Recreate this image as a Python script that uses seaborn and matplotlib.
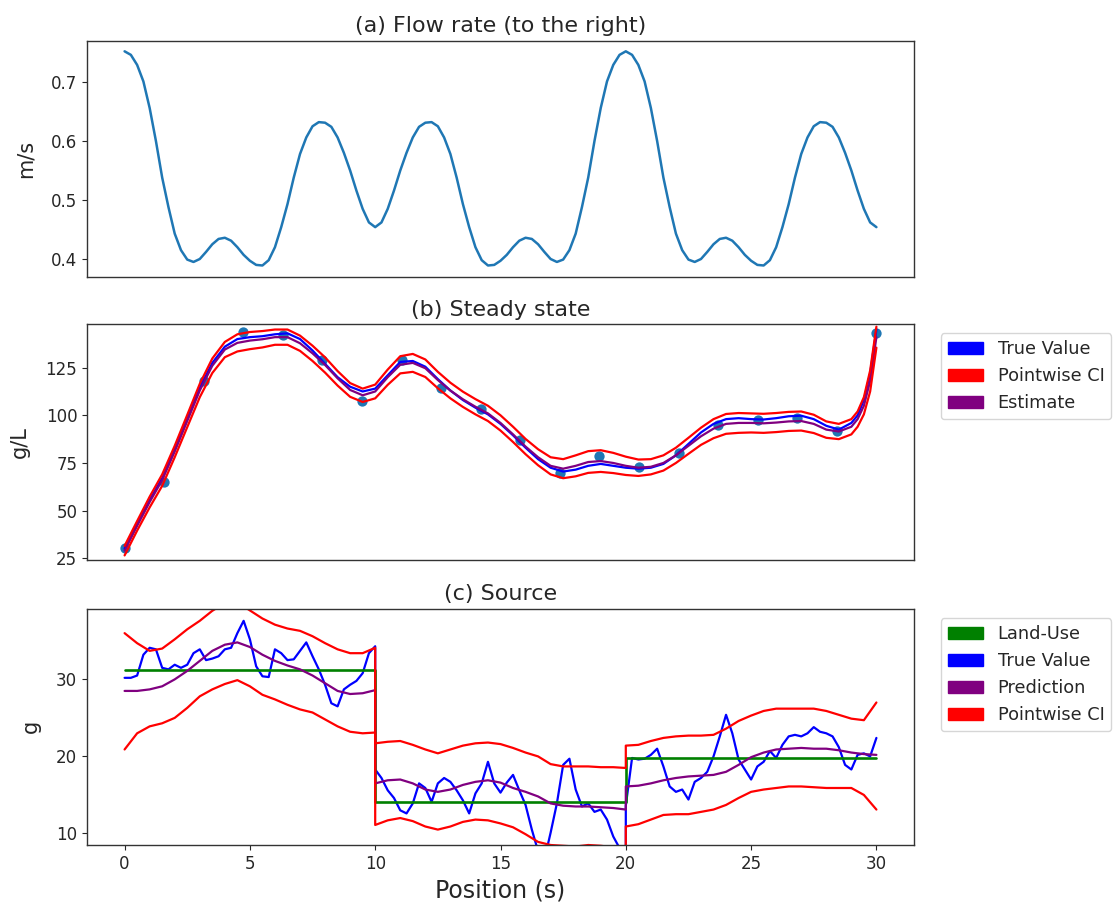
import numpy as np
import matplotlib
matplotlib.use("Agg")
import matplotlib.pyplot as plt
import matplotlib.patches as mpatches
import seaborn as sns

sns.set_style("ticks")
plt.rcParams['font.family'] = ['DejaVu Sans']

# ---------------- (a) Flow rate ----------------
pos_flow = np.linspace(0, 30, 121)
flow = [0.752, 0.746, 0.729, 0.701, 0.656, 0.600, 0.538, 0.488, 0.443, 0.415,
        0.399, 0.395, 0.400, 0.412, 0.425, 0.434, 0.436, 0.431, 0.420, 0.407,
        0.397, 0.390, 0.389, 0.398, 0.420, 0.454, 0.493, 0.538, 0.578, 0.606,
        0.625, 0.632, 0.631, 0.624, 0.606, 0.580, 0.550, 0.516, 0.485, 0.462,
        0.454,
        0.462, 0.485, 0.516, 0.550, 0.580, 0.606, 0.624, 0.631, 0.632, 0.625,
        0.606, 0.578, 0.538, 0.493, 0.454, 0.420, 0.398, 0.389, 0.390, 0.397,
        0.407, 0.420, 0.431, 0.436, 0.434, 0.425, 0.412, 0.400, 0.395, 0.399,
        0.415, 0.443, 0.488, 0.538, 0.600, 0.656, 0.701, 0.729, 0.746, 0.752,
        0.746, 0.729, 0.701, 0.656, 0.600, 0.538, 0.488, 0.443, 0.415,
        0.399, 0.395, 0.400, 0.412, 0.425, 0.434, 0.436, 0.431, 0.420, 0.407,
        0.397, 0.390, 0.389, 0.398, 0.420, 0.454, 0.493, 0.538, 0.578, 0.606,
        0.625, 0.632, 0.631, 0.624, 0.606, 0.580, 0.550, 0.516, 0.485, 0.462,
        0.454]

# ---------------- (b) Steady state ----------------
pos_obs = np.linspace(0, 30, 20)
ss_obs = [30.6, 65.2, 118.0, 143.9, 142.1, 129.0, 107.7, 129.0, 114.2, 103.1,
          87.1, 69.6, 78.8, 72.7, 80.1, 94.9, 97.6, 98.4, 92.0, 143.4]

pos_ss = np.concatenate([np.arange(0, 29, 0.5), [29.0, 29.25, 29.5, 29.75, 30.0]])
ss_true = [30.0, 43.0, 55.5, 67.0, 82.5, 98.5, 114.5, 127.5, 136.0, 140.0,
           141.0, 141.5, 142.5, 143.0, 140.0, 134.0, 127.0, 120.0, 115.0, 112.5,
           114.0, 121.0, 128.0, 128.5, 125.5, 119.0, 113.0, 108.0, 104.0, 100.5,
           95.5, 89.5, 83.0, 77.0, 72.5, 70.5, 71.5, 73.5, 74.5, 73.5,
           72.5, 72.0, 72.5, 74.5, 79.0, 85.0, 91.0, 95.5, 98.0, 98.5,
           98.0, 97.8, 98.5, 99.5, 99.8, 98.0, 94.5, 92.5,
           96.0, 100.0, 108.0, 122.0, 145.0]
ss_est = [29.0, 42.0, 54.5, 66.0, 81.0, 97.0, 113.0, 126.0, 134.5, 138.0,
          139.2, 139.9, 141.0, 141.0, 137.8, 132.5, 126.4, 119.4, 113.3, 110.5,
          112.5, 120.0, 126.5, 127.5, 124.7, 118.5, 113.0, 108.4, 104.5, 101.0,
          96.0, 90.0, 83.6, 78.0, 73.5, 72.0, 73.5, 75.5, 76.0, 75.0,
          73.5, 72.5, 73.0, 75.0, 79.0, 84.0, 89.0, 93.0, 95.5, 96.0,
          96.0, 95.8, 96.2, 96.8, 97.0, 95.5, 92.5, 91.5,
          94.0, 98.0, 105.0, 118.0, 141.0]
ss_upper = [31.5, 44.5, 57.3, 69.0, 84.0, 100.2, 116.5, 129.8, 138.5, 142.5,
            143.7, 144.2, 145.0, 145.0, 141.8, 136.5, 130.4, 123.2, 116.9, 114.0,
            116.1, 124.0, 131.0, 132.2, 129.3, 122.8, 117.1, 112.4, 108.5, 105.0,
            100.0, 94.0, 87.6, 82.2, 78.0, 77.0, 79.0, 81.2, 81.7, 80.3,
            78.3, 76.8, 77.0, 79.0, 83.0, 88.2, 93.5, 98.0, 100.7, 101.2,
            101.0, 100.8, 101.2, 101.8, 102.0, 100.3, 96.8, 95.5,
            98.0, 102.0, 109.5, 123.5, 146.5]
ss_lower = [26.5, 39.5, 51.7, 63.0, 78.0, 93.8, 109.5, 122.2, 130.5, 133.5,
            134.7, 135.6, 137.0, 137.0, 133.8, 128.5, 122.4, 115.6, 109.7, 107.0,
            108.9, 116.0, 122.0, 122.8, 120.1, 114.2, 108.9, 104.4, 100.5, 97.0,
            92.0, 86.0, 79.6, 73.8, 69.0, 67.0, 68.0, 69.8, 70.3, 69.7,
            68.7, 68.2, 69.0, 71.0, 75.0, 79.8, 84.5, 88.0, 90.3, 90.8,
            91.0, 90.8, 91.2, 91.8, 92.0, 90.7, 88.2, 87.5,
            90.0, 94.0, 100.5, 112.5, 135.5]

# ---------------- (c) Source ----------------
pos_land = [0, 10, 10, 20, 20, 30]
land_use = [31.1, 31.1, 14.0, 14.0, 19.7, 19.7]

pos_src_fine = np.concatenate([np.linspace(0, 10, 41), np.linspace(10, 20, 41),
                               np.linspace(20, 30, 41)])
src_true = [30.1, 30.1, 30.4, 33.1, 34.0, 33.8, 31.4, 31.2, 31.8, 31.4,
            31.8, 33.3, 33.8, 32.4, 32.6, 32.9, 33.8, 34.0, 35.9, 37.5,
            35.1, 31.6, 30.3, 30.2, 33.8, 33.3, 32.4, 32.5, 33.6, 34.7,
            32.9, 31.2, 29.2, 26.8, 26.4, 28.6, 29.2, 29.7, 30.7, 33.3,
            34.2,
            18.2, 17.1, 15.5, 14.5, 12.9, 12.5, 13.8, 16.4, 15.8, 14.0,
            16.4, 17.1, 16.6, 15.5, 14.2, 12.5, 15.1, 16.4, 19.2, 16.4,
            15.2, 16.5, 17.5, 15.5, 13.6, 10.4, 7.6, 6.5, 10.0, 13.8,
            18.8, 19.6, 15.6, 13.4, 13.8, 12.7, 13.0, 11.7, 9.5, 8.0,
            7.0,
            13.5, 19.7, 19.5, 19.6, 20.1, 20.9, 18.6, 16.0, 15.3, 15.6,
            14.3, 16.6, 17.1, 17.9, 19.9, 22.5, 25.3, 22.9, 19.5, 18.2,
            16.9, 18.6, 19.2, 20.6, 19.7, 21.4, 22.5, 22.7, 22.5, 22.9,
            23.7, 23.1, 22.9, 22.5, 21.1, 18.8, 18.2, 20.1, 20.3, 19.9,
            22.3]

pos_src = np.concatenate([np.linspace(0, 10, 21), np.linspace(10, 20, 21),
                          np.linspace(20, 30, 21)])
src_pred = [28.4, 28.4, 28.6, 29.0, 29.9, 31.0, 32.3, 33.6, 34.4, 34.7,
            34.1, 33.1, 32.3, 31.7, 31.2, 30.4, 29.4, 28.4, 28.0, 28.1, 28.5,
            16.4, 16.8, 16.9, 16.4, 15.6, 15.3, 15.6, 16.2, 16.6, 16.8,
            16.5, 15.8, 15.3, 14.7, 13.8, 13.5, 13.4, 13.4, 13.3, 13.2, 13.0,
            16.0, 16.1, 16.4, 16.8, 17.1, 17.3, 17.4, 17.5, 17.9, 18.8,
            19.8, 20.4, 20.8, 20.9, 21.0, 20.9, 20.9, 20.7, 20.4, 20.2, 20.1]
src_upper = [35.9, 34.6, 33.6, 33.9, 35.1, 36.4, 37.5, 38.8, 39.8, 39.9,
             38.85, 37.8, 37.0, 36.5, 36.2, 35.5, 34.6, 33.8, 33.3, 33.3, 34.0,
             21.6, 21.8, 21.9, 21.4, 20.8, 20.3, 20.8, 21.3, 21.6, 21.7,
             21.5, 21.0, 20.4, 19.9, 18.9, 18.6, 18.6, 18.6, 18.5, 18.5, 18.4,
             21.3, 21.4, 21.9, 22.3, 22.5, 22.6, 22.6, 22.7, 23.5, 24.5,
             25.2, 25.8, 26.1, 26.1, 26.1, 26.1, 25.8, 25.3, 24.8, 24.6, 26.9]
src_lower = [20.8, 22.9, 23.8, 24.2, 24.9, 26.2, 27.7, 28.6, 29.3, 29.8,
             29.0, 27.9, 27.3, 26.6, 26.0, 25.6, 24.7, 23.8, 23.1, 22.9, 23.0,
             11.0, 11.6, 11.9, 11.5, 10.8, 10.4, 10.8, 11.4, 11.7, 11.6,
             11.2, 10.7, 9.8, 8.8, 8.4, 8.3, 8.2, 8.4, 8.3, 8.1, 8.0,
             10.8, 11.1, 11.7, 12.3, 12.4, 12.4, 12.7, 13.0, 13.6, 14.5,
             15.3, 15.6, 15.8, 16.0, 16.0, 15.9, 15.8, 15.8, 15.8, 14.9, 13.0]

# ---------------- figure ----------------
W, H = 1116, 907
fig = plt.figure(figsize=(W / 100, H / 100), dpi=100)


def rect(l, t, r, b):
    return [l / W, 1 - b / H, (r - l) / W, (b - t) / H]


ax1 = fig.add_axes(rect(87, 40.7, 914, 276.7))
ax2 = fig.add_axes(rect(87, 324, 914, 560))
ax3 = fig.add_axes(rect(87, 608.5, 914, 845))

LW = 1.6
kw = dict(estimator=None, sort=False, legend=False)

# (a)
sns.lineplot(x=pos_flow, y=flow, ax=ax1, color='#1f77b4', lw=1.8, **kw)
ax1.set_ylim(0.370, 0.770)
ax1.set_yticks([0.4, 0.5, 0.6, 0.7])
ax1.set_title('(a) Flow rate (to the right)', fontsize=16)
ax1.set_ylabel('m/s', fontsize=15, labelpad=11)

# (b)
sns.scatterplot(x=pos_obs, y=ss_obs, ax=ax2, color='#1f77b4', s=55,
                linewidth=0, zorder=1, legend=False)
sns.lineplot(x=pos_ss, y=ss_true, ax=ax2, color='blue', lw=LW, **kw)
sns.lineplot(x=pos_ss, y=ss_est, ax=ax2, color='purple', lw=LW, **kw)
sns.lineplot(x=pos_ss, y=ss_upper, ax=ax2, color='red', lw=LW, **kw)
sns.lineplot(x=pos_ss, y=ss_lower, ax=ax2, color='red', lw=LW, **kw)
ax2.set_ylim(24.1, 147.9)
ax2.set_yticks([25, 50, 75, 100, 125])
ax2.set_title('(b) Steady state', fontsize=16)
ax2.set_ylabel('g/L', fontsize=15, labelpad=11)

# (c)
sns.lineplot(x=pos_src_fine, y=src_true, ax=ax3, color='blue', lw=LW, **kw)
sns.lineplot(x=pos_land, y=land_use, ax=ax3, color='green', lw=LW + 0.3, **kw)
sns.lineplot(x=pos_src, y=src_pred, ax=ax3, color='purple', lw=LW, **kw)
sns.lineplot(x=pos_src, y=src_upper, ax=ax3, color='red', lw=LW, **kw)
sns.lineplot(x=pos_src, y=src_lower, ax=ax3, color='red', lw=LW, **kw)
ax3.set_ylim(8.4, 39.1)
ax3.set_yticks([10, 20, 30])
ax3.set_title('(c) Source', fontsize=16)
ax3.set_ylabel('g', fontsize=15, labelpad=11)
ax3.set_xlabel('Position (s)', fontsize=17)
ax3.set_xticks([0, 5, 10, 15, 20, 25, 30])

for ax in (ax1, ax2, ax3):
    ax.set_xlim(-1.5, 31.5)
    ax.tick_params(axis='both', labelsize=12, colors='0.15')
    for sp in ax.spines.values():
        sp.set_color('0.2')
        sp.set_linewidth(1.0)
for ax in (ax1, ax2):
    ax.tick_params(axis='x', bottom=False, labelbottom=False)

h2 = [mpatches.Patch(color='blue', label='True Value'),
      mpatches.Patch(color='red', label='Pointwise CI'),
      mpatches.Patch(color='purple', label='Estimate')]
fig.legend(handles=h2, loc='upper left', bbox_to_anchor=(940.7 / W, 1 - 333.3 / H),
           bbox_transform=fig.transFigure, borderaxespad=0, fontsize=12.8)

h3 = [mpatches.Patch(color='green', label='Land-Use'),
      mpatches.Patch(color='blue', label='True Value'),
      mpatches.Patch(color='purple', label='Prediction'),
      mpatches.Patch(color='red', label='Pointwise CI')]
fig.legend(handles=h3, loc='upper left', bbox_to_anchor=(940.7 / W, 1 - 618.3 / H),
           bbox_transform=fig.transFigure, borderaxespad=0, fontsize=12.8)

fig.savefig('out.png', dpi=100)
